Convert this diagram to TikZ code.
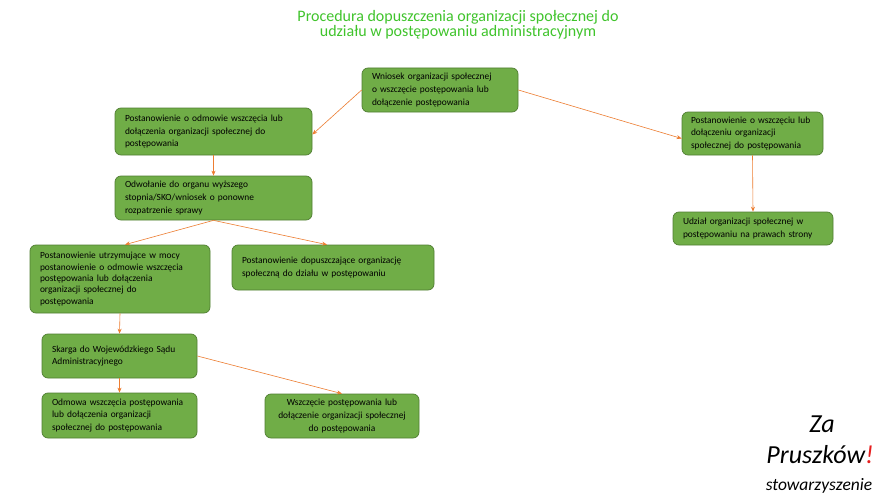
\documentclass[tikz,border=0pt]{standalone}
\usepackage{fontspec}
\setmainfont{Carlito}
\usetikzlibrary{arrows.meta}
\definecolor{boxgreen}{RGB}{112,173,71}
\definecolor{boxline}{RGB}{80,126,50}
\definecolor{flow}{RGB}{237,125,49}
\definecolor{titlegreen}{RGB}{64,196,44}
\definecolor{logored}{RGB}{230,30,30}

\begin{document}
\begin{tikzpicture}[x=1pt,y=-1pt,
  greenbox/.style={draw=boxline,fill=boxgreen,line width=0.7pt,rounded corners=6pt,
    align=left,inner xsep=10pt,inner ysep=2pt,font=\fontsize{9.4}{12.8}\selectfont},
  flowarrow/.style={draw=flow,line width=0.6pt,-{Stealth[length=5pt,width=4pt]}}]
  \useasboundingbox[fill=white] (0,0) rectangle (884,495);
  % title
  \node[titlegreen,align=center,font=\fontsize{16}{15.5}\selectfont] (title) at (458,25)
    {Procedura dopuszczenia organizacji społecznej do\\ udziału w postępowaniu administracyjnym};
  % boxes
  \node[greenbox,text width=136pt,minimum height=44pt] (wniosek) at (440,90)
    {Wniosek organizacji społecznej\\ o wszczęcie postępowania lub\\ dołączenie postępowania};
  \node[greenbox,text width=177pt,minimum height=47pt] (odmowa) at (213.5,131.5)
    {Postanowienie o odmowie wszczęcia lub\\ dołączenia organizacji społecznej do\\ postępowania};
  \node[greenbox,text width=177pt,minimum height=44pt] (odwolanie) at (213.5,198)
    {Odwołanie do organu wyższego\\ stopnia/SKO/wniosek o ponowne\\ rozpatrzenie sprawy};
  \node[greenbox,text width=160pt,minimum height=68pt,
    font=\fontsize{9.4}{11.4}\selectfont] (utrzym) at (120,279)
    {Postanowienie utrzymujące w mocy\\ postanowienie o odmowie wszczęcia\\ postępowania lub dołączenia\\ organizacji społecznej do\\ postępowania};
  \node[greenbox,text width=182pt,minimum height=45pt] (dopusz) at (333,267.5)
    {Postanowienie dopuszczające organizację\\ społeczną do działu w postępowaniu};
  \node[greenbox,text width=123pt,inner xsep=9pt,minimum height=43pt] (wszczeciu) at (752.5,133.5)
    {Postanowienie o wszczęciu lub\\ dołączeniu organizacji\\ społecznej do postępowania};
  \node[greenbox,text width=140pt,minimum height=33pt] (udzial) at (753,228.5)
    {Udział organizacji społecznej w\\ postępowaniu na prawach strony};
  \node[greenbox,text width=135pt,minimum height=44pt] (skarga) at (119.5,356)
    {Skarga do Wojewódzkiego Sądu\\ Administracyjnego};
  \node[greenbox,text width=135pt,minimum height=45pt] (odmowawsz) at (119.5,415.5)
    {Odmowa wszczęcia postępowania\\ lub dołączenia organizacji\\ społecznej do postępowania};
  \node[greenbox,align=center,text width=134pt,minimum height=44pt] (wszczecie) at (342,416)
    {Wszczęcie postępowania lub\\ dołączenie organizacji społecznej\\ do postępowania};
  % connectors
  \draw[flowarrow] (wniosek.west) -- ([yshift=-3pt]odmowa.east);
  \draw[flowarrow] (wniosek.east) -- ([yshift=-5pt]wszczeciu.west);
  \draw[flowarrow] (odmowa.south) -- (odwolanie.north);
  \draw[flowarrow] (odwolanie.south) -- ([xshift=5pt]utrzym.north);
  \draw[flowarrow] (odwolanie.south) -- ([xshift=-6pt]dopusz.north);
  \draw[flowarrow] (utrzym.south) -- (skarga.north);
  \draw[flowarrow] (skarga.east) -- (wszczecie.north);
  \draw[flowarrow] (skarga.south) -- (odmowawsz.north);
  \draw[flowarrow] (wszczeciu.south) -- (udzial.north);
  % logo
  \node[anchor=base,font=\fontsize{26}{26}\itshape] (za) at (822,432) {Za};
  \node[anchor=base,font=\fontsize{26}{26}\itshape] (pruszkow) at (820,463)
    {Pruszków\textcolor{logored}{!}};
  \node[anchor=base,font=\fontsize{17.5}{17.5}\itshape] (stow) at (819,490) {stowarzyszenie};
\end{tikzpicture}
\end{document}
